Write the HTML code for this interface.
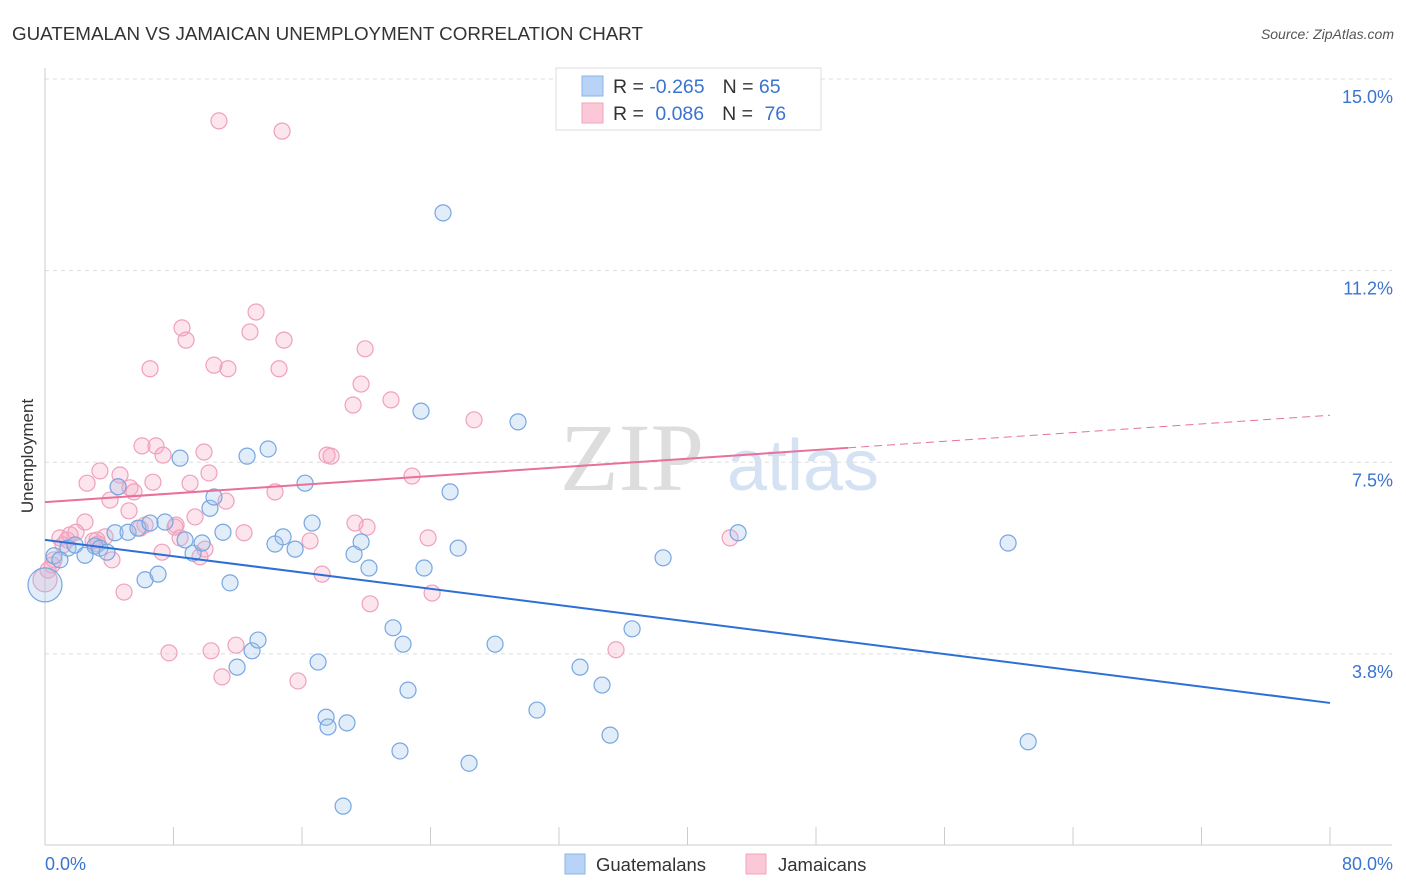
<!DOCTYPE html>
<html><head><meta charset="utf-8"><style>
body{margin:0;background:#fff;font-family:"Liberation Sans",sans-serif;}
svg{display:block}
</style></head><body>
<svg id="c" width="1406" height="892">
<text x="12" y="40" font-size="18.8" fill="#333">GUATEMALAN VS JAMAICAN UNEMPLOYMENT CORRELATION CHART</text>
<text x="1394" y="39" font-size="14" fill="#555" font-style="italic" text-anchor="end">Source: ZipAtlas.com</text>
<g><text x="632" y="490" font-size="96" fill="#ddd" text-anchor="middle" font-family="Liberation Serif">ZIP</text><text x="803" y="490" font-size="72" fill="#d4e2f4" text-anchor="middle">atlas</text></g>
<text transform="translate(33,456) rotate(-90)" font-size="17" fill="#333" text-anchor="middle">Unemployment</text>
<g id="grid"></g><g id="pts"></g><g id="lines"></g>
<g>
<rect x="556" y="68" width="265" height="62" fill="#fff" stroke="#ddd"/>
<rect x="582" y="76" width="21" height="20" fill="#b8d3f5" stroke="#8ab4e8"/>
<rect x="582" y="103" width="21" height="20" fill="#fbc8d8" stroke="#f2a4be"/>
<text x="613" y="93" font-size="19.5" fill="#333">R = <tspan fill="#3a74d0">-0.265</tspan><tspan dx="18">N = </tspan><tspan fill="#3a74d0">65</tspan></text>
<text x="613" y="120" font-size="19.5" fill="#333">R = <tspan fill="#3a74d0" dx="6">0.086</tspan><tspan dx="18">N = </tspan><tspan fill="#3a74d0" dx="6">76</tspan></text>
</g>
<g>
<rect x="565" y="854" width="20" height="20" fill="#b8d3f5" stroke="#8ab4e8"/><text x="596" y="871" font-size="18.5" fill="#333">Guatemalans</text>
<rect x="746" y="854" width="20" height="20" fill="#fbc8d8" stroke="#f2a4be"/><text x="778" y="871" font-size="18.5" fill="#333">Jamaicans</text>
</g>
</svg>
<script>
const yTicks=[15,11.25,7.5,3.75];
const yTickLabels=["15.0%","11.2%","7.5%","3.8%"];
const xTickLabels=["0.0%","80.0%"];
const blueX=[0.56,1.43,1.87,2.49,3.11,3.42,3.86,4.55,4.36,5.17,5.79,6.23,6.54,7.04,7.47,8.41,8.72,9.22,9.78,10.27,10.52,11.08,11.52,11.96,12.58,12.89,13.26,13.89,14.32,14.82,15.57,16.19,16.63,17.0,17.5,17.62,18.8,18.56,19.24,19.68,20.17,21.67,22.1,22.29,22.6,23.41,23.6,24.78,25.22,25.72,26.4,28.02,29.45,30.63,33.31,34.68,35.18,36.55,38.48,43.15,59.96,61.21,0.0,0.93];
const blueY=[5.67,5.82,5.88,5.68,5.86,5.82,5.74,7.02,6.12,6.13,6.21,5.2,6.31,5.31,6.33,7.58,5.98,5.72,5.92,6.6,6.82,6.13,5.14,3.49,7.62,3.81,4.02,7.76,5.9,6.04,5.8,7.09,6.31,3.59,2.51,2.32,2.4,0.77,5.7,5.94,5.43,4.26,1.85,3.94,3.04,8.5,5.43,12.38,6.92,5.82,1.61,3.94,8.29,2.65,3.49,3.14,2.16,4.24,5.63,6.12,5.92,2.03,5.1,5.59];
const pinkX=[10.83,14.76,13.14,8.53,12.76,8.78,14.88,19.93,6.54,10.52,11.39,14.57,19.68,21.54,19.18,26.71,6.04,6.91,7.35,9.9,17.56,17.81,3.42,4.67,10.21,2.62,6.72,9.03,5.29,4.55,5.54,14.32,22.85,11.27,4.05,5.23,9.34,2.49,6.23,8.09,20.05,19.3,1.93,3.74,3.24,0.93,1.37,8.41,12.39,16.5,23.85,42.65,7.29,9.65,4.17,0.44,0.19,0.0,17.25,20.24,24.1,4.92,7.72,10.34,11.89,11.02,15.75,35.55,2.99,1.12,3.3,0.56,9.96,8.16,5.92,1.56];
const pinkY=[14.18,13.98,10.44,10.13,10.05,9.89,9.89,9.72,9.33,9.4,9.33,9.33,9.03,8.72,8.62,8.33,7.82,7.82,7.64,7.7,7.64,7.62,7.33,7.25,7.29,7.09,7.11,7.09,7.0,7.02,6.92,6.92,7.23,6.74,6.76,6.55,6.43,6.33,6.27,6.23,6.23,6.31,6.13,6.04,5.98,6.02,5.98,6.02,6.12,5.96,6.02,6.02,5.74,5.65,5.59,5.49,5.39,5.2,5.31,4.73,4.94,4.96,3.77,3.81,3.92,3.3,3.22,3.83,5.96,5.88,5.9,5.59,5.8,6.27,6.21,6.08];
const blueTrend=[5.98,2.79];
const pinkTrend=[6.72,8.42];
const pinkSolidEnd=50;
const NS='http://www.w3.org/2000/svg';
const X=v=>45+v*(1285/80);
const Y=v=>79+(15-v)*51.1;
function mk(t,a,p){const e=document.createElementNS(NS,t);for(const k in a)e.setAttribute(k,a[k]);p.appendChild(e);return e;}
const grid=document.getElementById('grid');
yTicks.forEach((t,i)=>{
 const l=mk('line',{x1:45,x2:1392,y1:Y(t),y2:Y(t),stroke:'#ddd','stroke-dasharray':'4,4'},grid);
 
 
 const tx=mk('text',{x:1393,y:Y(t)+24,'font-size':18,fill:'#3a74d0','text-anchor':'end'},grid);
 tx.textContent=yTickLabels[i];
 
 
});
const ax=mk('line',{x1:45,x2:45,y1:68,y2:845,stroke:'#ccc'},grid);


const bx=mk('line',{x1:45,x2:1392,y1:845,y2:845,stroke:'#ccc'},grid);


for(let i=0;i<=10;i++){
 const t=mk('line',{x1:X(i*8),x2:X(i*8),y1:827,y2:845,stroke:'#ccc'},grid);
 
 
}
[[0,'start'],[80,'end']].forEach((d,i)=>{
 const t=mk('text',{x:i?1393:45,y:870,'font-size':18,fill:'#3a74d0','text-anchor':d[1]},grid);
 t.textContent=xTickLabels[i];
 
 
});
const pts=document.getElementById('pts');
function series(xs,ys,fill,stroke,name){
 xs.forEach((x,i)=>{
  const big=(x===0);
  const c=mk('circle',{cx:X(x),cy:Y(ys[i]),r:big?(name==='guatemalan-point'?17:12):8,fill:fill,stroke:stroke,'stroke-width':1.2},pts);
  
  
 });
}
series(pinkX,pinkY,'rgba(246,170,196,0.3)','#f0a0bc','jamaican-point');
series(blueX,blueY,'rgba(160,196,240,0.3)','#78a6e0','guatemalan-point');
const lines=document.getElementById('lines');
const bl=mk('line',{x1:X(0),y1:Y(blueTrend[0]),x2:X(80),y2:Y(blueTrend[1]),stroke:'#2d6fd6','stroke-width':2},lines);


const pm=v=>pinkTrend[0]+(pinkTrend[1]-pinkTrend[0])*v/80;
const pl=mk('line',{x1:X(0),y1:Y(pinkTrend[0]),x2:X(pinkSolidEnd),y2:Y(pm(pinkSolidEnd)),stroke:'#e8709a','stroke-width':2},lines);


const pd=mk('line',{x1:X(pinkSolidEnd),y1:Y(pm(pinkSolidEnd)),x2:X(80),y2:Y(pinkTrend[1]),stroke:'#e8709a','stroke-width':1,'stroke-dasharray':'8,5'},lines);


</script>
</body></html>
